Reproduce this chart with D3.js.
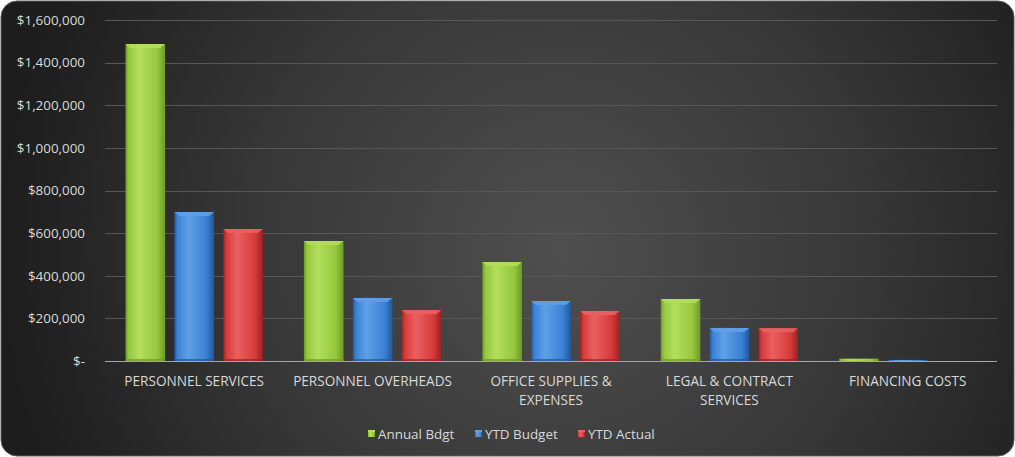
<!DOCTYPE html>
<html>
<head>
<meta charset="utf-8">
<script src="https://cdn.jsdelivr.net/npm/d3@7"></script>
<style>
  html, body { margin: 0; padding: 0; background: #ffffff; }
  svg { display: block; }
  text { font-family: "Open Sans", "Noto Sans", sans-serif; fill: #d9d9d9; }
</style>
</head>
<body>
<div id="chart"></div>
<script>
// Chart data
const categories = [
    ['PERSONNEL SERVICES'],
    ['PERSONNEL OVERHEADS'],
    ['OFFICE SUPPLIES &', 'EXPENSES'],
    ['LEGAL & CONTRACT', 'SERVICES'],
    ['FINANCING COSTS']
];
const seriesNames = ['Annual Bdgt', 'YTD Budget', 'YTD Actual'];
const annualBdgt = [1487000, 563000, 464000, 291000, 11000];
const ytdBudget = [699000, 296000, 281000, 155000, 5000];
const ytdActual = [619000, 239000, 235000, 154000, 0];
const yTicks = [0, 200000, 400000, 600000, 800000, 1000000, 1200000, 1400000, 1600000];

const seriesValues = [annualBdgt, ytdBudget, ytdActual];
// base, light, dark
const palette = [
    ['#95c83f', '#b4de5c', '#6f9a27'],
    ['#3b82d4', '#5fa0e6', '#22579c'],
    ['#d63b3b', '#ea6060', '#9a2222']
];

const width = 1015;
const height = 457;
const margin = { top: 20, right: 18, bottom: 96, left: 105 };

const svg = d3.select('#chart')
    .append('svg')
    .attr('width', width)
    .attr('height', height);

const defs = svg.append('defs');

// Background gradient
const bg = defs.append('radialGradient')
    .attr('id', 'bg')
    .attr('gradientUnits', 'userSpaceOnUse')
    .attr('cx', 560).attr('cy', 250).attr('r', 560);
bg.append('stop').attr('offset', '0%').attr('stop-color', '#4f4f4f');
bg.append('stop').attr('offset', '55%').attr('stop-color', '#373737');
bg.append('stop').attr('offset', '100%').attr('stop-color', '#1d1d1d');

// Bar gradients (horizontal shading for the bevel look)
palette.forEach((c, i) => {
    const g = defs.append('linearGradient')
        .attr('id', 'bar' + i)
        .attr('x1', 0).attr('x2', 1).attr('y1', 0).attr('y2', 0);
    g.append('stop').attr('offset', '0%').attr('stop-color', c[2]);
    g.append('stop').attr('offset', '8%').attr('stop-color', c[0]);
    g.append('stop').attr('offset', '35%').attr('stop-color', c[1]);
    g.append('stop').attr('offset', '80%').attr('stop-color', c[0]);
    g.append('stop').attr('offset', '100%').attr('stop-color', c[2]);
});

svg.append('rect')
    .attr('x', 1).attr('y', 1)
    .attr('width', width - 2).attr('height', height - 2)
    .attr('rx', 16).attr('ry', 16)
    .attr('fill', 'url(#bg)')
    .attr('stroke', '#5a5a5a')
    .attr('stroke-width', 1);

const innerW = width - margin.left - margin.right;
const innerH = height - margin.top - margin.bottom;

const x = d3.scaleBand()
    .domain(d3.range(categories.length))
    .range([margin.left, margin.left + innerW]);

const xSub = d3.scaleBand()
    .domain(d3.range(seriesNames.length))
    .range([0, x.bandwidth()])
    .paddingInner(0.19)
    .paddingOuter(0.42);

const y = d3.scaleLinear()
    .domain([0, 1600000])
    .range([margin.top + innerH, margin.top]);

// Gridlines
svg.append('g')
    .selectAll('line')
    .data(yTicks.slice(1))
    .enter()
    .append('line')
    .attr('x1', margin.left)
    .attr('x2', margin.left + innerW)
    .attr('y1', d => Math.round(y(d)) + 0.5)
    .attr('y2', d => Math.round(y(d)) + 0.5)
    .attr('stroke', '#575757')
    .attr('stroke-width', 1);

// Y axis labels
const fmt = d3.format(',');
const yAxis = d3.axisLeft(y)
    .tickValues(yTicks)
    .tickSize(0)
    .tickPadding(20)
    .tickFormat(d => d === 0 ? '$-' : '$' + fmt(d));

const yG = svg.append('g')
    .attr('transform', `translate(${margin.left},0)`)
    .call(yAxis);
yG.select('.domain').remove();
yG.selectAll('text')
    .style('font-size', '13.4px')
    .attr('fill', '#d9d9d9');

// Bars
const groups = svg.append('g')
    .selectAll('g')
    .data(categories.map((c, i) => i))
    .enter()
    .append('g')
    .attr('transform', i => `translate(${x(i)},0)`);

groups.each(function(ci) {
    const g = d3.select(this);
    seriesValues.forEach((vals, si) => {
        const v = vals[ci];
        if (v <= 0) return;
        const bx = xSub(si);
        const bw = xSub.bandwidth();
        const by = y(v);
        const bh = y(0) - by;
        g.append('rect')
            .attr('x', bx).attr('y', by)
            .attr('width', bw).attr('height', bh)
            .attr('fill', `url(#bar${si})`);
        // top bevel
        const bev = Math.min(4, bh);
        if (bh > 3) {
            g.append('path')
                .attr('d', `M${bx},${by} L${bx + bw},${by} L${bx + bw - 5},${by + bev} L${bx + 5},${by + bev} Z`)
                .attr('fill', palette[si][1])
                .attr('opacity', 0.9);
            // bottom shade
            g.append('rect')
                .attr('x', bx).attr('y', y(0) - 2)
                .attr('width', bw).attr('height', 2)
                .attr('fill', palette[si][2])
                .attr('opacity', 0.7);
        }
    });
});

// Baseline
svg.append('line')
    .attr('x1', margin.left)
    .attr('x2', margin.left + innerW)
    .attr('y1', y(0) + 0.5)
    .attr('y2', y(0) + 0.5)
    .attr('stroke', '#a6a6a6')
    .attr('stroke-width', 1.2);

// Category labels
const catG = svg.append('g');
categories.forEach((lines, i) => {
    const t = catG.append('text')
        .attr('x', x(i) + x.bandwidth() / 2)
        .attr('y', y(0) + 25)
        .attr('text-anchor', 'middle')
        .style('font-size', '13.6px');
    lines.forEach((ln, li) => {
        t.append('tspan')
            .attr('x', x(i) + x.bandwidth() / 2)
            .attr('dy', li === 0 ? 0 : 19)
            .text(ln);
    });
});

// Legend
const legendX = [368, 475, 578];
const legend = svg.append('g');
seriesNames.forEach((name, i) => {
    legend.append('rect')
        .attr('x', legendX[i]).attr('y', 430)
        .attr('width', 7).attr('height', 7)
        .attr('fill', `url(#bar${i})`);
    legend.append('rect')
        .attr('x', legendX[i]).attr('y', 430)
        .attr('width', 7).attr('height', 2)
        .attr('fill', palette[i][1]);
    legend.append('text')
        .attr('x', legendX[i] + 10)
        .attr('y', 439)
        .style('font-size', '13.4px')
        .text(name);
});
</script>
</body>
</html>
